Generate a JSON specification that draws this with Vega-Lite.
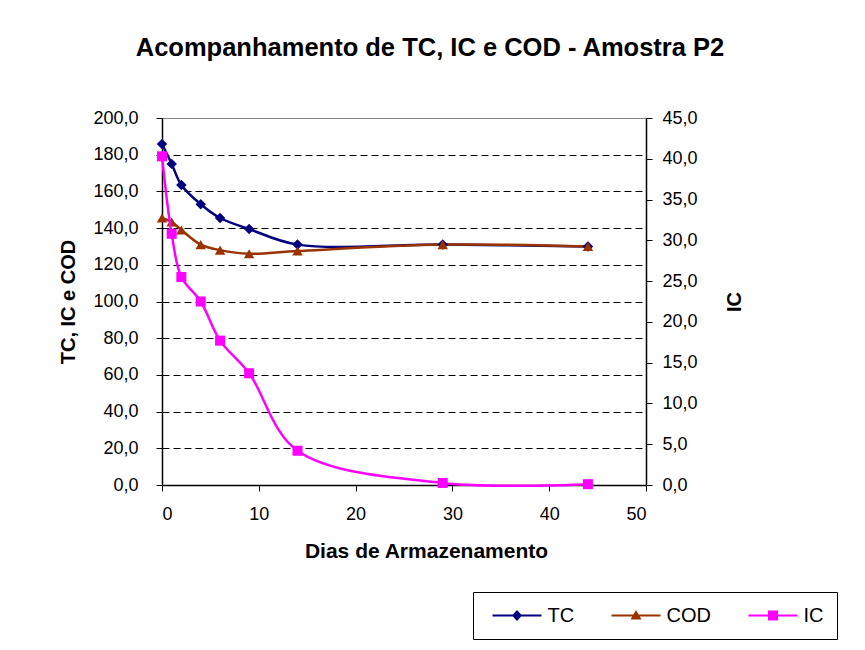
{
  "$schema": "https://vega.github.io/schema/vega-lite/v6.json",
  "width": 484,
  "height": 367,
  "autosize": {"type": "none"},
  "padding": {"left": 162, "top": 118, "right": 219, "bottom": 165},
  "background": "white",
  "config": {
    "locale": {"number": {"decimal": ",", "thousands": ".", "grouping": [3], "currency": ["", ""]}},
    "view": {"stroke": null},
    "font": "Liberation Sans"
  },
  "title": {
    "text": "Acompanhamento de TC, IC e COD - Amostra P2",
    "fontSize": 25.5,
    "fontWeight": "bold",
    "font": "Liberation Sans",
    "color": "black",
    "anchor": "middle",
    "dx": 26,
    "offset": 48
  },
  "data": {
    "values": [
      {"day": 0, "series": "TC", "value": 185.8},
      {"day": 1, "series": "TC", "value": 175.0},
      {"day": 2, "series": "TC", "value": 163.5},
      {"day": 4, "series": "TC", "value": 153.0},
      {"day": 6, "series": "TC", "value": 145.5},
      {"day": 9, "series": "TC", "value": 139.5},
      {"day": 14, "series": "TC", "value": 131.0},
      {"day": 29, "series": "TC", "value": 131.0},
      {"day": 44, "series": "TC", "value": 130.0},
      {"day": 0, "series": "COD", "value": 145.5},
      {"day": 1, "series": "COD", "value": 143.3},
      {"day": 2, "series": "COD", "value": 139.0},
      {"day": 4, "series": "COD", "value": 131.0},
      {"day": 6, "series": "COD", "value": 128.0},
      {"day": 9, "series": "COD", "value": 126.0},
      {"day": 14, "series": "COD", "value": 127.5},
      {"day": 29, "series": "COD", "value": 131.0},
      {"day": 44, "series": "COD", "value": 130.0},
      {"day": 0, "series": "IC", "value": 40.3},
      {"day": 1, "series": "IC", "value": 30.8},
      {"day": 2, "series": "IC", "value": 25.5},
      {"day": 4, "series": "IC", "value": 22.5},
      {"day": 6, "series": "IC", "value": 17.7},
      {"day": 9, "series": "IC", "value": 13.7},
      {"day": 14, "series": "IC", "value": 4.2},
      {"day": 29, "series": "IC", "value": 0.25},
      {"day": 44, "series": "IC", "value": 0.1}
    ]
  },
  "encoding": {
    "x": {
      "field": "day",
      "type": "quantitative",
      "scale": {"domain": [0, 50], "nice": false, "zero": false},
      "axis": {
        "title": "Dias de Armazenamento",
        "titleFont": "Liberation Sans",
        "titleFontSize": 21,
        "titleFontWeight": "bold",
        "titleColor": "black",
        "titlePadding": 17,
        "titleX": 264,
        "titleAlign": "center",
        "values": [0, 10, 20, 30, 40, 50],
        "format": "d",
        "labelFont": "Liberation Sans",
        "labelFontSize": 18,
        "labelColor": "black",
        "labelPadding": 14,
        "tickSize": 6,
        "tickColor": "black",
        "domainColor": "black",
        "domainWidth": 1.5,
        "grid": false
      }
    },
    "color": {
      "field": "series",
      "type": "nominal",
      "scale": {"domain": ["TC", "COD", "IC"], "range": ["#000080", "#993300", "#FF00FF"]},
      "legend": {
        "orient": "none",
        "legendX": 311,
        "legendY": 474,
        "direction": "horizontal",
        "title": null,
        "strokeColor": "black",
        "fillColor": "white",
        "padding": 13.5,
        "labelFont": "Liberation Sans",
        "labelFontSize": 20,
        "labelColor": "black",
        "symbolSize": 400,
        "symbolStrokeWidth": 0,
        "labelOffset": 41,
        "columnPadding": 31,
        "encode": {
          "symbols": {
            "update": {
              "shape": {"signal": "datum.value === 'TC' ? 'M-0.4,-0.1H4.5V0.1H-0.4Z M2.05,-0.55L2.55,0L2.05,0.55L1.55,0Z' : datum.value === 'COD' ? 'M-0.4,-0.1H4.5V0.1H-0.4Z M2.05,-0.55L2.6,0.4L1.5,0.4Z' : 'M-0.4,-0.1H4.5V0.1H-0.4Z M1.55,-0.5H2.55V0.5H1.55Z'"},
              "fill": {"scale": "color", "field": "value"},
              "fillOpacity": {"value": 1},
              "opacity": {"value": 1},
              "strokeWidth": {"value": 0}
            }
          }
        }
      }
    }
  },
  "layer": [
    {
      "transform": [{"filter": "datum.series !== 'IC'"}],
      "encoding": {
        "y": {
          "field": "value",
          "type": "quantitative",
          "scale": {"domain": [0, 200], "nice": false},
          "axis": {
            "orient": "left",
            "title": "TC, IC e COD",
            "titleFont": "Liberation Sans",
            "titleFontSize": 20,
            "titleFontWeight": "bold",
            "titleColor": "black",
            "titlePadding": 14,
            "values": [0, 20, 40, 60, 80, 100, 120, 140, 160, 180, 200],
            "format": ".1f",
            "labelFont": "Liberation Sans",
            "labelFontSize": 18,
            "labelColor": "black",
            "labelPadding": 18,
            "tickSize": 6,
            "tickColor": "black",
            "domainColor": "black",
            "domainWidth": 1.5,
            "grid": true,
            "gridColor": {"condition": {"test": "datum.value >= 200", "value": "#808080"}, "value": "black"},
            "gridDash": {"condition": {"test": "datum.value >= 200", "value": []}, "value": [7, 4]},
            "gridWidth": 1
          }
        }
      },
      "layer": [
        {"mark": {"type": "line", "interpolate": "catmull-rom", "strokeWidth": 2.5}},
        {
          "transform": [{"filter": "datum.series === 'TC'"}],
          "mark": {"type": "point", "shape": "diamond", "filled": true, "opacity": 1, "size": 110}
        },
        {
          "transform": [{"filter": "datum.series === 'COD'"}],
          "mark": {"type": "point", "shape": "triangle-up", "filled": true, "opacity": 1, "size": 110}
        }
      ]
    },
    {
      "transform": [{"filter": "datum.series === 'IC'"}],
      "encoding": {
        "y": {
          "field": "value",
          "type": "quantitative",
          "scale": {"domain": [0, 45], "nice": false},
          "axis": {
            "orient": "right",
            "title": "IC",
            "titleFont": "Liberation Sans",
            "titleFontSize": 20,
            "titleFontWeight": "bold",
            "titleColor": "black",
            "titleAngle": 270,
            "titlePadding": 47,
            "values": [0, 5, 10, 15, 20, 25, 30, 35, 40, 45],
            "format": ".1f",
            "labelFont": "Liberation Sans",
            "labelFontSize": 18,
            "labelColor": "black",
            "labelPadding": 10,
            "tickSize": 6,
            "tickColor": "black",
            "domainColor": "black",
            "domainWidth": 1.5,
            "grid": false
          }
        }
      },
      "layer": [
        {"mark": {"type": "line", "interpolate": "catmull-rom", "strokeWidth": 2.5}},
        {"mark": {"type": "point", "shape": "square", "filled": true, "opacity": 1, "size": 100}}
      ]
    }
  ],
  "resolve": {"scale": {"y": "independent"}}
}
